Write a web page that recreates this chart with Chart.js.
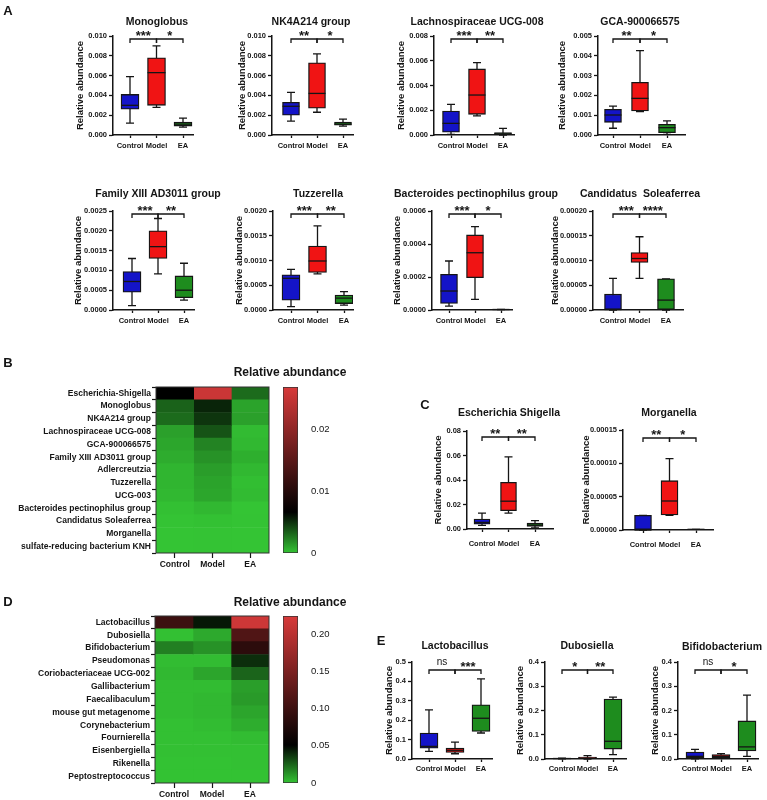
<!DOCTYPE html>
<html>
<head>
<meta charset="utf-8">
<script src="https://cdn.jsdelivr.net/npm/chart.js"></script>
<style>
  body { margin: 0; background: #fff; }
  #fig { position: relative; width: 767px; height: 800px; }
  #fig canvas { position: absolute; left: 0; top: 0; }
</style>
</head>
<body>
<div id="fig"></div>
<script>
    // 分组
    var groups = ['Control', 'Model', 'EA'];

    // 箱线图数据: 每组 [min, q1, median, q3, max]
    var monoglobus = [[0.0012, 0.0026, 0.0030, 0.0041, 0.0059], [0.0028, 0.0030, 0.0063, 0.0078, 0.0090], [0.0008, 0.0009, 0.0011, 0.0013, 0.0017]];
    var nk4a214 = [[0.0014, 0.0020, 0.0029, 0.0033, 0.0043], [0.0023, 0.0027, 0.0042, 0.0073, 0.0082], [0.0009, 0.0010, 0.0011, 0.0013, 0.0016]];
    var lachno = [[0.00005, 0.00022, 0.00094, 0.00194, 0.00248], [0.00154, 0.00167, 0.00323, 0.00534, 0.00585], [0.0, 0.00003, 0.0001, 0.0002, 0.00054]];
    var gca = [[0.00034, 0.00064, 0.00101, 0.0013, 0.00146], [0.00118, 0.00121, 0.00185, 0.00266, 0.00426], [0.00003, 0.00012, 0.00037, 0.00054, 0.00071]];
    var familyXIII = [[0.00011, 0.00045, 0.00072, 0.00097, 0.0013], [0.00091, 0.0013, 0.0016, 0.0020, 0.00231], [0.00025, 0.00031, 0.0005, 0.00086, 0.00118]];
    var tuzzerella = [[0.00007, 0.0002, 0.00064, 0.00071, 0.00082], [0.00073, 0.00076, 0.00099, 0.00129, 0.0017], [0.0001, 0.00013, 0.00024, 0.0003, 0.00037]];
    var bacteroides = [[0.000024, 0.00004, 0.000115, 0.000216, 0.000297], [0.000065, 0.000196, 0.000347, 0.000455, 0.000505], [0.000002, 0.000002, 0.000003, 0.000003, 0.000004]];
    var candidatus = [[0, 0, 0.000001, 0.000032, 0.000064], [0.000064, 0.000096, 0.000104, 0.000116, 0.000148], [0, 0, 0.00002, 0.000063, 0.000063]];
    var escherichia = [[0.003, 0.004, 0.0054, 0.0081, 0.013], [0.013, 0.0149, 0.0227, 0.0381, 0.0589], [0.001, 0.0022, 0.0032, 0.0049, 0.0068]];
    var morganella = [[0, 0, 0, 0.000022, 0.000022], [0.000022, 0.0000225, 0.0000435, 0.000074, 0.000107], [0.000001, 0.000001, 0.000001, 0.000001, 0.000001]];
    var lactobacillus = [[0.039, 0.056, 0.065, 0.134, 0.253], [0.027, 0.034, 0.045, 0.056, 0.087], [0.134, 0.142, 0.21, 0.279, 0.413]];
    var dubosiella = [[0.001, 0.0015, 0.002, 0.0025, 0.003], [0, 0.002, 0.004, 0.008, 0.0137], [0.018, 0.041, 0.073, 0.247, 0.255]];
    var bifido = [[0.001, 0.004, 0.011, 0.029, 0.04], [0.003, 0.006, 0.011, 0.018, 0.022], [0.011, 0.033, 0.05, 0.157, 0.263]];

    // 显著性标记: [Control vs Model, Model vs EA]
    var monoglobusSig = ['***', '*'];
    var nk4a214Sig = ['**', '*'];
    var lachnoSig = ['***', '**'];
    var gcaSig = ['**', '*'];
    var familyXIIISig = ['***', '**'];
    var tuzzerellaSig = ['***', '**'];
    var bacteroidesSig = ['***', '*'];
    var candidatusSig = ['***', '****'];
    var escherichiaSig = ['**', '**'];
    var morganellaSig = ['**', '*'];
    var lactobacillusSig = ['ns', '***'];
    var dubosiellaSig = ['*', '**'];
    var bifidoSig = ['ns', '*'];

    // 热图 B
    var bRows = ['Escherichia-Shigella', 'Monoglobus', 'NK4A214 group', 'Lachnospiraceae UCG-008', 'GCA-900066575', 'Family XIII AD3011 group', 'Adlercreutzia', 'Tuzzerella', 'UCG-003', 'Bacteroides pectinophilus group', 'Candidatus Soleaferrea', 'Morganella', 'sulfate-reducing bacterium KNH'];
    var bControl = [0.0066, 0.0033, 0.0030, 0.0012, 0.0010, 0.0008, 0.0005, 0.0005, 0.0004, 0.00014, 0.00003, 0.00001, 0.00001];
    var bModel = [0.0255, 0.0054, 0.0048, 0.0038, 0.0022, 0.0017, 0.0013, 0.0011, 0.0010, 0.0004, 0.0001, 0.00005, 0.00002];
    var bEA = [0.0030, 0.0011, 0.0012, 0.0003, 0.0004, 0.0007, 0.0004, 0.0002, 0.0003, 0.0, 0.00003, 0.0, 0.0];
    var bMid = 0.0066, bMax = 0.0268;

    // 热图 D
    var dRows = ['Lactobacillus', 'Dubosiella', 'Bifidobacterium', 'Pseudomonas', 'Coriobacteriaceae UCG-002', 'Gallibacterium', 'Faecalibaculum', 'mouse gut metagenome', 'Corynebacterium', 'Fournierella', 'Eisenbergiella', 'Rikenella', 'Peptostreptococcus'];
    var dControl = [0.099, 0.001, 0.018, 0.002, 0.003, 0.002, 0.002, 0.002, 0.001, 0.001, 0.001, 0.0005, 0.0005];
    var dModel = [0.045, 0.007, 0.013, 0.002, 0.008, 0.002, 0.003, 0.003, 0.002, 0.001, 0.001, 0.0005, 0.0005];
    var dEA = [0.215, 0.115, 0.086, 0.039, 0.025, 0.010, 0.011, 0.008, 0.006, 0.002, 0.001, 0.001, 0.0005];
    var dMid = 0.051, dMax = 0.224;

    var boxColors = ['#1414c8', '#f01414', '#1e8c1e'];
    var heatLow = [52, 196, 52], heatMid = [0, 0, 0], heatHigh = [216, 58, 58];
    var FONT = '"Liberation Sans", Arial, sans-serif';
    var INK = '#151515';
    var PW = 767, PH = 800;

    Chart.defaults.font.family = FONT;
    Chart.defaults.color = INK;

    function makeCanvas() {
        var c = document.createElement('canvas');
        c.width = PW; c.height = PH;
        c.style.width = PW + 'px'; c.style.height = PH + 'px';
        document.getElementById('fig').appendChild(c);
        return c.getContext('2d');
    }

    function heatColor(v, mid, max) {
        var a, b, t;
        if (v <= mid) { a = heatLow; b = heatMid; t = v / mid; }
        else { a = heatMid; b = heatHigh; t = Math.min(1, (v - mid) / (max - mid)); }
        return 'rgb(' + a.map(function (c, k) { return Math.round(c + (b[k] - c) * t); }).join(',') + ')';
    }

    function rgb(a) { return 'rgb(' + a.join(',') + ')'; }

    function text(ctx, s, x, y, font, align, base) {
        ctx.font = font;
        ctx.fillStyle = INK;
        ctx.textAlign = align || 'center';
        ctx.textBaseline = base || 'middle';
        ctx.fillText(s, x, y);
    }

    // 箱线图
    function boxChart(p) {
        var unit = (p.cE - p.cC) / 2;
        var W = 40, H = 22;
        var half = p.bw / 2;
        var extras = {
            id: 'boxExtras',
            beforeDatasetsDraw: function (chart) {
                var xs = chart.scales.x, ys = chart.scales.y, ctx = chart.ctx;
                ctx.save();
                ctx.strokeStyle = INK; ctx.lineWidth = 1.3;
                p.stats.forEach(function (s, i) {
                    var x = xs.getPixelForValue(i);
                    var lo = ys.getPixelForValue(s[0]), hi = ys.getPixelForValue(s[4]);
                    ctx.beginPath();
                    ctx.moveTo(x, lo); ctx.lineTo(x, hi);
                    ctx.moveTo(x - 4, lo); ctx.lineTo(x + 4, lo);
                    ctx.moveTo(x - 4, hi); ctx.lineTo(x + 4, hi);
                    ctx.stroke();
                });
                ctx.restore();
            },
            afterDatasetsDraw: function (chart) {
                var xs = chart.scales.x, ys = chart.scales.y, ctx = chart.ctx;
                ctx.save();
                ctx.strokeStyle = INK; ctx.lineWidth = 1.3;
                p.stats.forEach(function (s, i) {
                    var x = xs.getPixelForValue(i), m = ys.getPixelForValue(s[2]);
                    ctx.beginPath();
                    ctx.moveTo(x - half, m); ctx.lineTo(x + half, m);
                    ctx.stroke();
                });
                ctx.restore();
            },
            afterDraw: function (chart) {
                var ctx = chart.ctx, xs = chart.scales.x, a = chart.chartArea;
                ctx.save();
                text(ctx, p.title, p.tx, p.ty, 'bold 10.5px ' + FONT);
                ctx.save();
                ctx.translate(p.yt, (a.top + a.bottom) / 2);
                ctx.rotate(-Math.PI / 2);
                text(ctx, 'Relative abundance', 0, 0, 'bold 9.5px ' + FONT);
                ctx.restore();
                // 显著性括号
                var line = a.top + p.brk;
                ctx.strokeStyle = INK; ctx.lineWidth = 1.3;
                [[0, 1], [1, 2]].forEach(function (pair, k) {
                    var xa = xs.getPixelForValue(pair[0]), xb = xs.getPixelForValue(pair[1]);
                    ctx.beginPath();
                    ctx.moveTo(xa, line + 4); ctx.lineTo(xa, line); ctx.lineTo(xb, line); ctx.lineTo(xb, line + 4);
                    ctx.stroke();
                    var s = p.sig[k];
                    if (s === 'ns') text(ctx, s, (xa + xb) / 2, line - 5, '10px ' + FONT, 'center', 'alphabetic');
                    else text(ctx, s, (xa + xb) / 2, line + 0.5, 'bold 13px ' + FONT, 'center', 'alphabetic');
                });
                if (p.letters) p.letters(ctx);
                ctx.restore();
            }
        };
        new Chart(makeCanvas(), {
            type: 'bar',
            data: {
                datasets: [{
                    data: p.stats.map(function (s, i) { return { x: i, y: [s[1], s[3]] }; }),
                    backgroundColor: boxColors,
                    borderColor: INK,
                    borderWidth: 1.3,
                    borderSkipped: false,
                    barThickness: p.bw
                }]
            },
            options: {
                responsive: false,
                animation: false,
                events: [],
                layout: { padding: { left: p.x0 - W, right: PW - p.x1, top: p.top, bottom: PH - p.zero - H } },
                plugins: { legend: { display: false }, tooltip: { enabled: false } },
                scales: {
                    x: {
                        type: 'linear',
                        offset: false,
                        min: -(p.cC - p.x0) / unit,
                        max: 2 + (p.x1 - p.cE) / unit,
                        afterFit: function (s) { s.height = H; },
                        afterBuildTicks: function (s) { s.ticks = groups.map(function (g, i) { return { value: i }; }); },
                        ticks: {
                            autoSkip: false, maxRotation: 0, padding: p.xpad,
                            font: { size: 7.5, weight: 'bold' },
                            callback: function (v) { return groups[v]; }
                        },
                        grid: { offset: false, drawOnChartArea: false, tickLength: 3, tickColor: INK, tickWidth: 1.3 },
                        border: { color: INK, width: 1.5 }
                    },
                    y: {
                        min: 0,
                        max: p.max,
                        afterFit: function (s) { s.width = W; },
                        ticks: {
                            stepSize: p.step, padding: 2,
                            font: { size: 7.5, weight: 'bold' },
                            callback: function (v) { return v.toFixed(p.dec); }
                        },
                        grid: { drawOnChartArea: false, tickLength: 4, tickColor: INK, tickWidth: 1.3 },
                        border: { color: INK, width: 1.5 }
                    }
                }
            },
            plugins: [extras]
        });
    }

    // 热图
    function heatChart(p) {
        var W = 150, H = 24;
        var frame = {
            id: 'frame',
            afterDraw: function (chart) {
                var a = chart.chartArea, ctx = chart.ctx;
                ctx.save();
                ctx.strokeStyle = '#333'; ctx.lineWidth = 1;
                ctx.strokeRect(a.left, a.top, a.right - a.left, a.bottom - a.top);
                text(ctx, 'Relative abundance', p.tx, p.ty, 'bold 12px ' + FONT);
                ctx.restore();
            }
        };
        new Chart(makeCanvas(), {
            type: 'bar',
            data: {
                labels: p.rows,
                datasets: p.cols.map(function (col) {
                    return {
                        data: p.rows.map(function () { return 1; }),
                        backgroundColor: col.map(function (v) { return heatColor(v, p.mid, p.max); }),
                        borderWidth: 0,
                        barPercentage: 1,
                        categoryPercentage: 1
                    };
                })
            },
            options: {
                indexAxis: 'y',
                responsive: false,
                animation: false,
                events: [],
                layout: { padding: { left: p.x0 - W, right: PW - p.x1, top: p.top, bottom: PH - p.bottom - H } },
                plugins: { legend: { display: false }, tooltip: { enabled: false } },
                scales: {
                    x: {
                        type: 'linear', stacked: true, min: 0, max: 3, offset: false,
                        afterFit: function (s) { s.height = H; },
                        afterBuildTicks: function (s) { s.ticks = groups.map(function (g, i) { return { value: i + 0.5 }; }); },
                        ticks: {
                            autoSkip: false, maxRotation: 0, padding: 2,
                            font: { size: 8.5, weight: 'bold' },
                            callback: function (v) { return groups[Math.floor(v)]; }
                        },
                        grid: { offset: false, drawOnChartArea: false, tickLength: 5, tickColor: INK, tickWidth: 1.2 },
                        border: { display: false }
                    },
                    y: {
                        stacked: true,
                        afterFit: function (s) { s.width = W; },
                        ticks: { autoSkip: false, padding: 1, font: { size: 8.5, weight: 'bold' } },
                        grid: { offset: true, drawOnChartArea: false, tickLength: 4, tickColor: INK, tickWidth: 1.2 },
                        border: { display: false }
                    }
                }
            },
            plugins: [frame]
        });
    }

    // 色标
    function colorBar(p) {
        var W = 40;
        new Chart(makeCanvas(), {
            type: 'bar',
            data: {
                labels: [''],
                datasets: [{
                    data: [p.max],
                    backgroundColor: function (c) {
                        var a = c.chart.chartArea;
                        if (!a) return rgb(heatLow);
                        var g = c.chart.ctx.createLinearGradient(0, a.bottom, 0, a.top);
                        g.addColorStop(0, rgb(heatLow));
                        g.addColorStop(p.mid / p.max, rgb(heatMid));
                        g.addColorStop(1, rgb(heatHigh));
                        return g;
                    },
                    borderColor: '#333',
                    borderWidth: 1,
                    borderSkipped: false,
                    barPercentage: 1,
                    categoryPercentage: 1
                }]
            },
            options: {
                responsive: false,
                animation: false,
                events: [],
                layout: { padding: { left: p.x0, right: PW - p.x1 - W, top: p.top, bottom: PH - p.bottom } },
                plugins: { legend: { display: false }, tooltip: { enabled: false } },
                scales: {
                    x: { display: false },
                    y: {
                        position: 'right', min: 0, max: p.max,
                        afterFit: function (s) { s.width = W; },
                        ticks: {
                            stepSize: p.step, includeBounds: false, padding: 5,
                            font: { size: 9.5 },
                            callback: function (v) { return v === 0 ? '0' : v.toFixed(2); }
                        },
                        grid: { display: false },
                        border: { display: false }
                    }
                }
            }
        });
    }

    function panelLetters(ctx) {
        var f = 'bold 13px ' + FONT;
        text(ctx, 'A', 8, 11, f);
        text(ctx, 'B', 8, 363, f);
        text(ctx, 'C', 425, 405, f);
        text(ctx, 'D', 8, 602, f);
        text(ctx, 'E', 381, 641, f);
    }

    // A 第一行
    boxChart({ stats: monoglobus, sig: monoglobusSig, title: 'Monoglobus', max: 0.010, step: 0.002, dec: 3, x0: 113, x1: 193, cC: 130, cE: 183, top: 36, zero: 135, tx: 157, ty: 22, yt: 80, brk: 3, bw: 18, xpad: 3, letters: panelLetters });
    boxChart({ stats: nk4a214, sig: nk4a214Sig, title: 'NK4A214 group', max: 0.010, step: 0.002, dec: 3, x0: 272, x1: 353, cC: 291, cE: 343, top: 36, zero: 135, tx: 311, ty: 22, yt: 242, brk: 3, bw: 17, xpad: 3 });
    boxChart({ stats: lachno, sig: lachnoSig, title: 'Lachnospiraceae UCG-008', max: 0.008, step: 0.002, dec: 3, x0: 434, x1: 514, cC: 451, cE: 503, top: 36, zero: 135, tx: 477, ty: 22, yt: 401, brk: 3, bw: 17, xpad: 3 });
    boxChart({ stats: gca, sig: gcaSig, title: 'GCA-900066575', max: 0.005, step: 0.001, dec: 3, x0: 598, x1: 685, cC: 613, cE: 667, top: 36, zero: 135, tx: 640, ty: 22, yt: 562, brk: 3, bw: 17, xpad: 3 });
    // A 第二行
    boxChart({ stats: familyXIII, sig: familyXIIISig, title: 'Family XIII AD3011 group', max: 0.0025, step: 0.0005, dec: 4, x0: 113, x1: 194, cC: 132, cE: 184, top: 211, zero: 310, tx: 158, ty: 194, yt: 78, brk: 3, bw: 18, xpad: 3 });
    boxChart({ stats: tuzzerella, sig: tuzzerellaSig, title: 'Tuzzerella', max: 0.0020, step: 0.0005, dec: 4, x0: 273, x1: 353, cC: 291, cE: 344, top: 211, zero: 310, tx: 318, ty: 194, yt: 239, brk: 3, bw: 18, xpad: 3 });
    boxChart({ stats: bacteroides, sig: bacteroidesSig, title: 'Bacteroides pectinophilus group', max: 0.0006, step: 0.0002, dec: 4, x0: 432, x1: 512, cC: 449, cE: 501, top: 211, zero: 310, tx: 476, ty: 194, yt: 397, brk: 3, bw: 17, xpad: 3 });
    boxChart({ stats: candidatus, sig: candidatusSig, title: 'Candidatus  Soleaferrea', max: 0.00020, step: 0.00005, dec: 5, x0: 593, x1: 683, cC: 613, cE: 666, top: 211, zero: 310, tx: 640, ty: 194, yt: 555, brk: 3, bw: 17, xpad: 3 });

    // B
    heatChart({ rows: bRows, cols: [bControl, bModel, bEA], mid: bMid, max: bMax, x0: 156, x1: 269, top: 387, bottom: 553, tx: 290, ty: 373 });
    colorBar({ mid: bMid, max: bMax, step: 0.01, x0: 283, x1: 298, top: 387, bottom: 553 });

    // C
    boxChart({ stats: escherichia, sig: escherichiaSig, title: 'Escherichia Shigella', max: 0.08, step: 0.02, dec: 2, x0: 467, x1: 553, cC: 482, cE: 535, top: 431, zero: 529, tx: 509, ty: 413, yt: 438, brk: 6, bw: 16, xpad: 7 });
    boxChart({ stats: morganella, sig: morganellaSig, title: 'Morganella', max: 0.00015, step: 0.00005, dec: 5, x0: 623, x1: 713, cC: 643, cE: 696, top: 430, zero: 530, tx: 669, ty: 413, yt: 586, brk: 8, bw: 17, xpad: 7 });

    // D
    heatChart({ rows: dRows, cols: [dControl, dModel, dEA], mid: dMid, max: dMax, x0: 155, x1: 269, top: 616, bottom: 783, tx: 290, ty: 603 });
    colorBar({ mid: dMid, max: dMax, step: 0.05, x0: 283, x1: 298, top: 616, bottom: 783 });

    // E
    boxChart({ stats: lactobacillus, sig: lactobacillusSig, title: 'Lactobacillus', max: 0.5, step: 0.1, dec: 1, x0: 412, x1: 492, cC: 429, cE: 481, top: 662, zero: 759, tx: 455, ty: 646, yt: 389, brk: 8, bw: 18, xpad: 2 });
    boxChart({ stats: dubosiella, sig: dubosiellaSig, title: 'Dubosiella', max: 0.4, step: 0.1, dec: 1, x0: 545, x1: 626, cC: 562, cE: 613, top: 662, zero: 759, tx: 587, ty: 646, yt: 520, brk: 8, bw: 18, xpad: 2 });
    boxChart({ stats: bifido, sig: bifidoSig, title: 'Bifidobacterium', max: 0.4, step: 0.1, dec: 1, x0: 678, x1: 758, cC: 695, cE: 747, top: 662, zero: 759, tx: 722, ty: 647, yt: 655, brk: 8, bw: 18, xpad: 2 });
</script>
</body>
</html>
